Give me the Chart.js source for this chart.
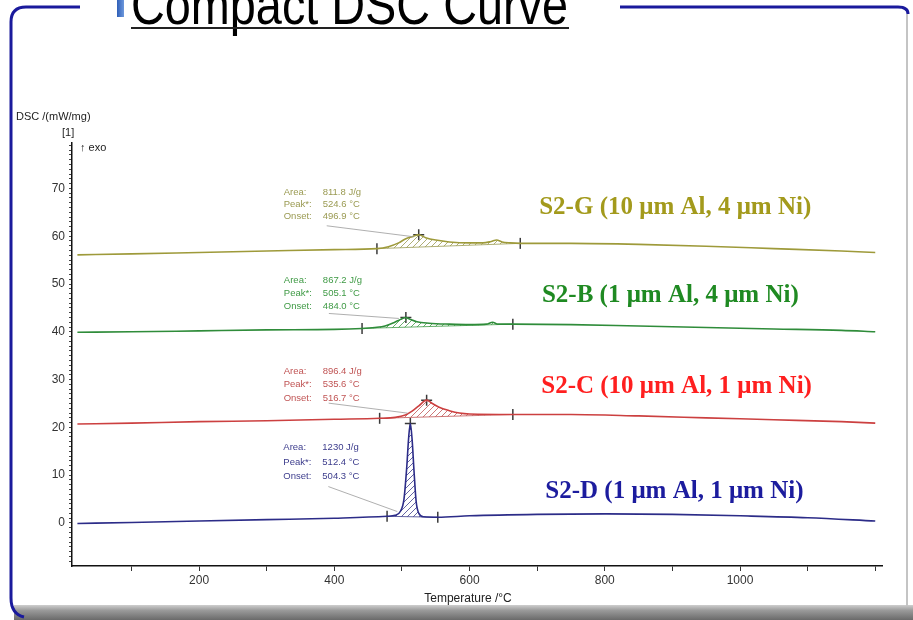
<!DOCTYPE html>
<html><head><meta charset="utf-8">
<script src="https://cdn.jsdelivr.net/npm/chart.js@4/dist/chart.umd.min.js"></script>
<style>html,body{margin:0;padding:0;background:#fff;overflow:hidden}canvas{display:block}</style>
</head><body>
<canvas id="c" width="913" height="620"></canvas>
<script>
// ---------- DATA ----------
const seriesNames = ['S2-G (10 \u03bcm Al, 4 \u03bcm Ni)', 'S2-B (1 \u03bcm Al, 4 \u03bcm Ni)', 'S2-C (10 \u03bcm Al, 1 \u03bcm Ni)', 'S2-D (1 \u03bcm Al, 1 \u03bcm Ni)'];

const gTemp = [20, 100, 200, 300, 400, 463, 480, 495, 505, 515, 524.8, 535, 550, 570, 600, 620, 632, 640, 648, 660, 675, 750, 850, 950, 1050, 1150, 1200];
const gDsc  = [56.1, 56.3, 56.6, 56.9, 57.2, 57.4, 57.8, 58.6, 59.4, 59.9, 60.3, 59.7, 59.2, 58.8, 58.6, 58.6, 58.9, 59.2, 58.8, 58.6, 58.5, 58.5, 58.3, 57.9, 57.4, 56.9, 56.6];
const bTemp = [20, 100, 200, 300, 400, 441, 460, 475, 488, 498, 505.8, 512, 522, 540, 570, 600, 625, 634, 642, 664, 750, 850, 950, 1050, 1150, 1200];
const bDsc  = [39.9, 40.0, 40.2, 40.4, 40.5, 40.7, 40.9, 41.2, 41.9, 42.6, 43.0, 42.6, 42.1, 41.8, 41.6, 41.5, 41.6, 42.0, 41.6, 41.6, 41.5, 41.2, 40.9, 40.6, 40.3, 40.0];
const cTemp = [20, 100, 200, 300, 400, 467, 490, 505, 515, 525, 536.5, 545, 555, 570, 585, 600, 664, 750, 850, 950, 1050, 1150, 1200];
const cDsc  = [20.7, 20.9, 21.2, 21.4, 21.7, 21.9, 22.1, 22.6, 23.4, 24.5, 25.7, 25.0, 24.2, 23.5, 23.0, 22.8, 22.7, 22.7, 22.4, 22.0, 21.6, 21.2, 20.9];
const dTemp = [20, 100, 200, 300, 400, 478, 490, 498, 503, 507, 510, 512.4, 515, 518, 521, 525, 532, 553, 600, 700, 800, 900, 1000, 1100, 1200];
const dDsc  = [-0.1, 0.1, 0.4, 0.7, 1.0, 1.4, 1.6, 2.5, 5.0, 11.5, 18.0, 20.8, 17.5, 10.5, 4.5, 2.0, 1.3, 1.2, 1.5, 1.8, 1.9, 1.8, 1.5, 1.1, 0.4];

// integration limits (temperature, DSC) and peak marks
const gLimT = [463, 675];   const gLimV = [57.4, 58.5];   const gPeak = [524.8, 60.3];
const bLimT = [441, 664];   const bLimV = [40.7, 41.6];   const bPeak = [505.8, 43.0];
const cLimT = [467, 664];   const cLimV = [21.9, 22.7];   const cPeak = [536.5, 25.7];
const dLimT = [478, 553];   const dLimV = [1.4, 1.2];     const dPeak = [512.4, 20.8];

const gInfo = ['811.8 J/g', '524.6 \u00b0C', '496.9 \u00b0C'];
const bInfo = ['867.2 J/g', '505.1 \u00b0C', '484.0 \u00b0C'];
const cInfo = ['896.4 J/g', '535.6 \u00b0C', '516.7 \u00b0C'];
const dInfo = ['1230 J/g', '512.4 \u00b0C', '504.3 \u00b0C'];
const infoKeys = ['Area:', 'Peak*:', 'Onset:'];

const xTicks = [100, 200, 300, 400, 500, 600, 700, 800, 900, 1000, 1100, 1200];
const xLabels = [200, 400, 600, 800, 1000];
const yTicks = [-8,-7,-6,-5,-4,-3,-2,-1,0,1,2,3,4,5,6,7,8,9,10,11,12,13,14,15,16,17,18,19,20,21,22,23,24,25,26,27,28,29,30,31,32,33,34,35,36,37,38,39,40,41,42,43,44,45,46,47,48,49,50,51,52,53,54,55,56,57,58,59,60,61,62,63,64,65,66,67,68,69,70,71,72,73,74,75,76,77,78,79];
const yLabels = [0, 10, 20, 30, 40, 50, 60, 70];

// ---------- STYLE ----------
const lineColors  = ['#9e9a3a', '#2f8c3a', '#cc4040', '#2c2c88'];
const textColors  = ['#a39a1c', '#1f8a22', '#ff1f1f', '#1c1c9e'];
const infoColors  = ['#9a9a52', '#3f9a45', '#c05454', '#3c3c8c'];
// annotation layout: offsets in px from the peak pixel
const infoLayout = [
  {tx:-135, ty:-42, lx0:-92, ly0:-9, lx1:-5, ly1:2, gap:12},
  {tx:-122, ty:-37, lx0:-77, ly0:-4, lx1:-7, ly1:1, gap:13},
  {tx:-143, ty:-29, lx0:-98, ly0:3,  lx1:-19, ly1:13, gap:13.5},
  {tx:-127, ty:24,  lx0:-82, ly0:63, lx1:-13, ly1:88, gap:14.5}
];
// series label anchors in data coordinates
const labelAnchor = [[703, 66.1], [707, 47.6], [706, 28.5], [712, 6.6]];

function hatch(color) {
  const p = document.createElement('canvas'); p.width = 6; p.height = 6;
  const g = p.getContext('2d');
  g.strokeStyle = color; g.lineWidth = 0.8;
  g.beginPath(); g.moveTo(0, 6); g.lineTo(6, 0); g.moveTo(-3, 3); g.lineTo(3, -3); g.moveTo(3, 9); g.lineTo(9, 3); g.stroke();
  return document.getElementById('c').getContext('2d').createPattern(p, 'repeat');
}

const temps = [gTemp, bTemp, cTemp, dTemp];
const dscs = [gDsc, bDsc, cDsc, dDsc];
const limT = [gLimT, bLimT, cLimT, dLimT];
const limV = [gLimV, bLimV, cLimV, dLimV];
const peaks = [gPeak, bPeak, cPeak, dPeak];
const infos = [gInfo, bInfo, cInfo, dInfo];

const datasets = [];
for (let i = 0; i < 4; i++) {
  datasets.push({
    data: temps[i].map((t, k) => ({x: t, y: dscs[i][k]})),
    borderColor: lineColors[i], borderWidth: 1.6, pointRadius: 0,
    cubicInterpolationMode: 'monotone',
    fill: {target: 3 * i + 1}, backgroundColor: hatch(infoColors[i])
  });
  datasets.push({
    data: limT[i].map((t, k) => ({x: t, y: limV[i][k]})),
    borderColor: infoColors[i], borderWidth: 0.8, pointRadius: 0, fill: false
  });
  datasets.push({
    data: [{x: limT[i][0], y: limV[i][0]}, {x: limT[i][1], y: limV[i][1]}, {x: peaks[i][0], y: peaks[i][1]}],
    showLine: false, borderColor: '#3a3a3a', borderWidth: 1.5, backgroundColor: '#3a3a3a',
    pointRadius: 5.5,
    pointStyle: (ctx) => ctx.dataIndex === 2 ? 'cross' : 'line',
    rotation: (ctx) => ctx.dataIndex === 2 ? 0 : 90
  });
}

const decor = {
  id: 'decor',
  beforeDraw(chart) {
    const c = chart.ctx;
    c.save();
    c.fillStyle = '#fff'; c.fillRect(0, 0, 913, 620);
    // bottom gray band
    const gr = c.createLinearGradient(0, 604, 0, 620);
    gr.addColorStop(0, '#d8d8d8'); gr.addColorStop(0.4, '#9a9a9a'); gr.addColorStop(1, '#6a6a6a');
    c.fillStyle = gr; c.fillRect(14, 605, 899, 15);
    // right gray edge
    c.strokeStyle = '#c4c4c4'; c.lineWidth = 2;
    c.beginPath(); c.moveTo(907, 14); c.lineTo(907, 606); c.stroke();
    // blue frame
    c.strokeStyle = '#1a1a9c'; c.lineWidth = 3;
    c.beginPath(); c.moveTo(80, 7); c.lineTo(26, 7); c.quadraticCurveTo(11, 7, 11, 22);
    c.lineTo(11, 598); c.quadraticCurveTo(11, 614, 24, 617); c.stroke();
    c.beginPath(); c.moveTo(620, 7); c.lineTo(898, 7); c.quadraticCurveTo(908, 7, 908, 14); c.stroke();
    // blue title bullet
    const bg = c.createLinearGradient(117, 0, 124, 0);
    bg.addColorStop(0, '#2f5fb8'); bg.addColorStop(1, '#6d98dc');
    c.fillStyle = bg; c.fillRect(117, 0, 7, 17);
    // title (top cut off)
    c.fillStyle = '#000';
    c.font = '56px "Liberation Sans", Arial, sans-serif';
    c.textBaseline = 'alphabetic'; c.textAlign = 'left';
    const title = 'Compact DSC Curve';
    const w = c.measureText(title).width;
    c.save(); c.translate(131, 24); c.scale(437 / w, 1); c.fillText(title, 0, 0); c.restore();
    c.fillStyle = '#222'; c.fillRect(131, 27, 438, 2);
    c.restore();
  },
  afterDatasetsDraw(chart) {
    const c = chart.ctx, xs = chart.scales.x, ys = chart.scales.y, a = chart.chartArea;
    c.save();
    // axis captions
    c.fillStyle = '#222'; c.textBaseline = 'middle';
    c.font = '11px "Liberation Sans", Arial, sans-serif'; c.textAlign = 'left';
    c.fillText('DSC /(mW/mg)', 16, 117);
    c.fillText('[1]', a.left - 10, 133);
    c.fillText('\u2191 exo', a.left + 8, 148);
    c.font = '12px "Liberation Sans", Arial, sans-serif'; c.textAlign = 'center';
    c.fillText('Temperature /\u00b0C', (a.left + a.right) / 2 - 9, a.bottom + 33);
    // peak annotations
    c.font = '9.5px "Liberation Sans", Arial, sans-serif';
    for (let i = 0; i < 4; i++) {
      const px = xs.getPixelForValue(peaks[i][0]), py = ys.getPixelForValue(peaks[i][1]);
      const L = infoLayout[i];
      c.fillStyle = infoColors[i]; c.textAlign = 'left'; c.textBaseline = 'middle';
      for (let k = 0; k < 3; k++) {
        c.fillText(infoKeys[k], px + L.tx, py + L.ty + k * L.gap);
        c.fillText(infos[i][k], px + L.tx + 39, py + L.ty + k * L.gap);
      }
      c.strokeStyle = '#9a9a9a'; c.lineWidth = 0.8;
      c.beginPath(); c.moveTo(px + L.lx0, py + L.ly0); c.lineTo(px + L.lx1, py + L.ly1); c.stroke();
      // series label
      c.fillStyle = textColors[i];
      c.font = 'bold 25px "Liberation Serif", "Times New Roman", serif';
      c.textBaseline = 'middle';
      c.fillText(seriesNames[i], xs.getPixelForValue(labelAnchor[i][0]), ys.getPixelForValue(labelAnchor[i][1]));
      c.font = '9.5px "Liberation Sans", Arial, sans-serif';
    }
    c.restore();
  }
};

new Chart(document.getElementById('c'), {
  type: 'line',
  data: {datasets},
  plugins: [decor],
  options: {
    responsive: false, animation: false, devicePixelRatio: 1,
    layout: {padding: {top: 143, right: 31, left: 0, bottom: 0}},
    plugins: {legend: {display: false}, tooltip: {enabled: false}},
    elements: {line: {tension: 0}},
    scales: {
      x: {
        type: 'linear', min: 12, max: 1210,
        afterBuildTicks: (s) => { s.ticks = xTicks.map(v => ({value: v})); },
        afterFit: (s) => { s.height = 54; },
        ticks: {autoSkip: false, maxRotation: 0, padding: 2, color: '#333',
          font: {family: '"Liberation Sans", Arial, sans-serif', size: 12},
          callback: (v) => xLabels.includes(v) ? String(v) : ''},
        grid: {drawOnChartArea: false, tickLength: 5, color: '#333'},
        border: {color: '#111', width: 1.5}
      },
      y: {
        type: 'linear', min: -9, max: 79.5,
        afterBuildTicks: (s) => { s.ticks = yTicks.map(v => ({value: v})); },
        afterFit: (s) => { s.width = 72; },
        ticks: {autoSkip: false, padding: 4, color: '#333',
          font: {family: '"Liberation Sans", Arial, sans-serif', size: 12},
          callback: (v) => yLabels.includes(v) ? String(v) : ''},
        grid: {drawOnChartArea: false, tickLength: 3, color: '#444'},
        border: {color: '#111', width: 1.5}
      }
    }
  }
});
</script>
</body></html>
